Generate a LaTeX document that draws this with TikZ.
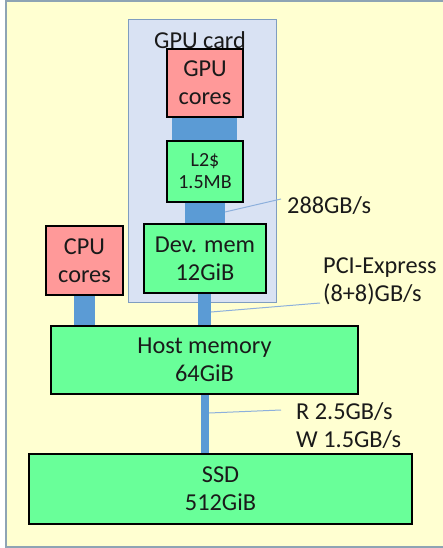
\documentclass[tikz,border=0pt]{standalone}
\usepackage{fontspec}
\setmainfont{Carlito}
\definecolor{bgyellow}{HTML}{FFFFD1}
\definecolor{bgborder}{HTML}{8EA4B4}
\definecolor{cardfill}{HTML}{D9E2F3}
\definecolor{cardborder}{HTML}{7F9DC0}
\definecolor{memgreen}{HTML}{69FF99}
\definecolor{corered}{HTML}{FF9999}
\definecolor{busblue}{HTML}{5B9BD5}
\definecolor{leader}{HTML}{8DB0DC}
\definecolor{txt}{HTML}{1A1A1A}
\begin{document}
\begin{tikzpicture}[x=1pt,y=-1pt,
  box/.style={draw=black,line width=1.8pt,align=center,text=txt,inner sep=0pt,
    font=\fontsize{24.3}{28}\selectfont},
  mem/.style={box,fill=memgreen},
  core/.style={box,fill=corered},
  bus/.style={fill=busblue,draw=none},
  lead/.style={draw=leader,line width=1pt},
  lab/.style={anchor=west,align=left,text=txt,inner sep=0pt,
    font=\fontsize{24.3}{28}\selectfont}]
\useasboundingbox (0,0) rectangle (442,548);
% background
\path[fill=bgyellow,draw=bgborder,line width=2pt] (6,1) rectangle (450,547);
% GPU card
\path[fill=cardfill,draw=cardborder,line width=1pt] (128,20) rectangle (276,302);
\node[text=txt,font=\fontsize{24.3}{28}\selectfont,inner sep=0pt] (cardlab) at (200,40) {GPU card};
% buses (drawn first, boxes over them)
\path[bus] (172,115) rectangle (237,143);
\path[bus] (185,200) rectangle (225,226);
\path[bus] (74,293) rectangle (95,327);
\path[bus] (198,291) rectangle (211,327);
\path[bus] (201,392) rectangle (209,455);
% boxes
\node[core,minimum width=76pt,minimum height=68pt] (gpu) at (205,83) {GPU\\cores};
\node[mem,minimum width=76pt,minimum height=61pt,font=\fontsize{20}{22}\selectfont] (l2) at (205,171.5) {L2\$\\1.5MB};
\node[mem,minimum width=122pt,minimum height=69pt] (dev) at (205,258.5) {Dev. mem\\12GiB};
\node[core,minimum width=77pt,minimum height=69pt] (cpu) at (84.5,260.5) {CPU\\cores};
\node[mem,minimum width=307pt,minimum height=68pt] (host) at (204.5,360) {Host memory\\64GiB};
\node[mem,minimum width=383pt,minimum height=70pt] (ssd) at (220.5,489) {SSD\\512GiB};
% labels
\node[lab] (l288) at (287,206) {288GB/s};
\node[lab] (lpci) at (323,281) {PCI-Express\\(8+8)GB/s};
\node[lab] (lssd) at (296,426) {R 2.5GB/s\\W 1.5GB/s};
% leader lines
\coordinate (a1) at (225,212);
\coordinate (a2) at (281,199);
\coordinate (b1) at (211,312);
\coordinate (b2) at (320,303);
\coordinate (c1) at (209,413);
\coordinate (c2) at (281,410);
\draw[lead] (a1) -- (a2);
\draw[lead] (b1) -- (b2);
\draw[lead] (c1) -- (c2);
\end{tikzpicture}
\end{document}
